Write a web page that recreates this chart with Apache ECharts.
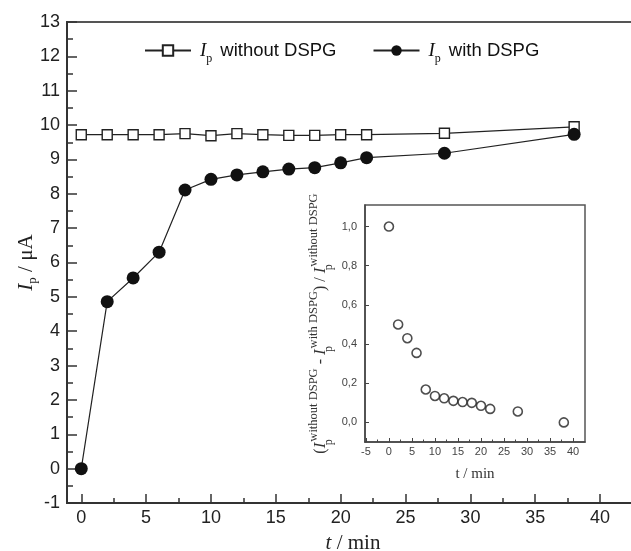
<!DOCTYPE html>
<html>
<head>
<meta charset="utf-8">
<script src="https://cdn.jsdelivr.net/npm/echarts@6/dist/echarts.min.js"></script>
<style>
  html, body { margin: 0; padding: 0; background: #fff; }
  #main { width: 631px; height: 551px; }
</style>
</head>
<body>
<div id="main"></div>
<script>
// sampling times (min)
var times = [0, 2, 4, 6, 8, 10, 12, 14, 16, 18, 20, 22, 28, 38];
// peak current Ip (uA)
var withoutDSPG = [9.72, 9.72, 9.72, 9.72, 9.75, 9.69, 9.75, 9.72, 9.70, 9.70, 9.72, 9.72, 9.76, 9.95];
var withDSPG = [0, 4.86, 5.55, 6.30, 8.11, 8.42, 8.55, 8.64, 8.72, 8.76, 8.90, 9.05, 9.18, 9.73];
// inset: (Ip without - Ip with) / Ip without
var ratio = [1.0, 0.50, 0.43, 0.355, 0.168, 0.135, 0.123, 0.110, 0.104, 0.100, 0.085, 0.069, 0.056, 0.0];

var mainXTicks = [0, 5, 10, 15, 20, 25, 30, 35, 40];
var mainXMinor = [2.5, 7.5, 12.5, 17.5, 22.5, 27.5, 32.5, 37.5];
var insetXTicks = [-5, 0, 5, 10, 15, 20, 25, 30, 35, 40];
var insetXMinor = [-2.5, 2.5, 7.5, 12.5, 17.5, 22.5, 27.5, 32.5, 37.5];
var insetYTicks = [0, 0.2, 0.4, 0.6, 0.8, 1.0];

var sans = 'Liberation Sans';
var serif = 'Liberation Serif';

function pairs(ys) {
  return times.map(function (t, i) { return [t, ys[i]]; });
}

var chart = echarts.init(document.getElementById('main'));

var option = {
  animation: false,
  backgroundColor: '#fff',
  grid: [
    { left: 67, top: 22, right: -8, bottom: 48, outerBoundsMode: 'none', containLabel: false,
      show: true, borderColor: '#555', borderWidth: 2 },
    { left: 365, top: 205, width: 220, height: 237, outerBoundsMode: 'none', containLabel: false,
      show: true, borderColor: '#555', borderWidth: 1.5 }
  ],
  legend: {
    data: ['without', 'with'],
    left: 139,
    top: 36,
    itemWidth: 46,
    itemHeight: 13,
    itemGap: 36,
    selectedMode: false,
    formatter: function (n) {
      return n === 'without' ? '{i|I}{s|p}{t|without DSPG}' : '{i|I}{s|p}{t|with DSPG}';
    },
    textStyle: {
      color: '#111',
      fontFamily: sans,
      fontSize: 18,
      rich: {
        t: { fontFamily: sans, fontSize: 18.5, color: '#111', lineHeight: 28 },
        i: { fontFamily: serif, fontStyle: 'italic', fontSize: 19, color: '#111', lineHeight: 28, padding: [0, 0, 0, 4] },
        s: { fontFamily: serif, fontSize: 12, color: '#111', lineHeight: 12, verticalAlign: 'bottom', padding: [0, 8, 0, 0] }
      }
    }
  },
  xAxis: [
    {
      type: 'value', gridIndex: 0, min: -1.1, max: 43,
      splitLine: { show: false },
      axisLine: { show: true, onZero: false, lineStyle: { color: '#333', width: 2 } },
      axisTick: { inside: true, length: 9, customValues: mainXTicks, lineStyle: { color: '#333', width: 1.5 } },
      axisLabel: { customValues: mainXTicks, fontFamily: sans, fontSize: 18, color: '#222', margin: 6 },
      name: '{i|t}{t| / min}',
      nameLocation: 'middle',
      nameGap: 30,
      nameMoveOverlap: false,
      nameTextStyle: {
        rich: {
          i: { fontFamily: serif, fontStyle: 'italic', fontSize: 21, color: '#222' },
          t: { fontFamily: serif, fontSize: 21, color: '#222' }
        }
      }
    },
    {
      type: 'value', gridIndex: 0, min: -1.1, max: 43, position: 'bottom',
      splitLine: { show: false },
      axisLine: { show: false, onZero: false },
      axisLabel: { show: false },
      axisTick: { inside: true, length: 5, customValues: mainXMinor, lineStyle: { color: '#333', width: 1.5 } }
    },
    {
      type: 'value', gridIndex: 1, min: -5.2, max: 42.6,
      splitLine: { show: false },
      axisLine: { show: true, onZero: false, lineStyle: { color: '#444', width: 1.5 } },
      axisTick: { inside: true, length: 4, customValues: insetXTicks, lineStyle: { color: '#444' } },
      axisLabel: { customValues: insetXTicks, fontFamily: sans, fontSize: 11, color: '#444', margin: 4 },
      name: 't / min',
      nameLocation: 'middle',
      nameGap: 25,
      nameMoveOverlap: false,
      nameTextStyle: { fontFamily: serif, fontSize: 15, color: '#333' }
    },
    {
      type: 'value', gridIndex: 1, min: -5.2, max: 42.6, position: 'bottom',
      splitLine: { show: false },
      axisLine: { show: false, onZero: false },
      axisLabel: { show: false },
      axisTick: { inside: true, length: 2.5, customValues: insetXMinor, lineStyle: { color: '#444' } }
    }
  ],
  yAxis: [
    {
      type: 'value', gridIndex: 0, min: -1, max: 13, interval: 1,
      splitLine: { show: false },
      axisLine: { show: true, onZero: false, lineStyle: { color: '#333', width: 2 } },
      axisTick: { inside: true, length: 10, lineStyle: { color: '#333', width: 1.5 } },
      minorTick: { show: true, splitNumber: 2, length: 6, lineStyle: { color: '#333', width: 1.5 } },
      axisLabel: { fontFamily: sans, fontSize: 18, color: '#222', margin: 7 },
      name: '{i|I}{s|p}{t| / μA}',
      nameLocation: 'middle',
      nameGap: 28,
      nameMoveOverlap: false,
      nameTextStyle: {
        rich: {
          i: { fontFamily: serif, fontStyle: 'italic', fontSize: 21, color: '#222', lineHeight: 26 },
          s: { fontFamily: serif, fontSize: 13, color: '#222', lineHeight: 13, verticalAlign: 'bottom' },
          t: { fontFamily: serif, fontSize: 21, color: '#222', lineHeight: 26 }
        }
      }
    },
    {
      type: 'value', gridIndex: 1, min: -0.1, max: 1.11,
      splitLine: { show: false },
      axisLine: { show: true, onZero: false, lineStyle: { color: '#444', width: 1.5 } },
      axisTick: { inside: true, length: 4, customValues: insetYTicks, lineStyle: { color: '#444' } },
      axisLabel: {
        customValues: insetYTicks, fontFamily: sans, fontSize: 11, color: '#444', margin: 8,
        formatter: function (v) { return v.toFixed(1).replace('.', ','); }
      },
      name: '{t|(}{i|I}{s|p}{u|without DSPG}{t| - }{i|I}{s|p}{u|with DSPG}{t|) / }{i|I}{s|p}{u|without DSPG}',
      nameLocation: 'middle',
      nameGap: 30,
      nameMoveOverlap: false,
      nameTextStyle: {
        rich: {
          t: { fontFamily: serif, fontSize: 16, color: '#333', lineHeight: 28 },
          i: { fontFamily: serif, fontStyle: 'italic', fontSize: 17, color: '#333', lineHeight: 28 },
          s: { fontFamily: serif, fontSize: 12, color: '#333', lineHeight: 12, verticalAlign: 'bottom', width: 1 },
          u: { fontFamily: serif, fontSize: 12.5, color: '#333', lineHeight: 12, verticalAlign: 'top' }
        }
      }
    }
  ],
  series: [
    {
      name: 'without', type: 'line', xAxisIndex: 0, yAxisIndex: 0,
      data: pairs(withoutDSPG),
      symbol: 'rect', symbolSize: 10,
      itemStyle: { color: '#fff', borderColor: '#222', borderWidth: 1.4 },
      lineStyle: { color: '#222', width: 1.2 }
    },
    {
      name: 'with', type: 'line', xAxisIndex: 0, yAxisIndex: 0,
      data: pairs(withDSPG),
      symbol: 'circle', symbolSize: 13,
      itemStyle: { color: '#111', borderColor: '#111', borderWidth: 0 },
      lineStyle: { color: '#222', width: 1.2 }
    },
    {
      name: 'ratio', type: 'scatter', xAxisIndex: 2, yAxisIndex: 1,
      data: pairs(ratio),
      symbol: 'circle', symbolSize: 9,
      itemStyle: { color: '#fff', borderColor: '#222', borderWidth: 1.6 }
    }
  ]
};

chart.setOption(option);
</script>
</body>
</html>
